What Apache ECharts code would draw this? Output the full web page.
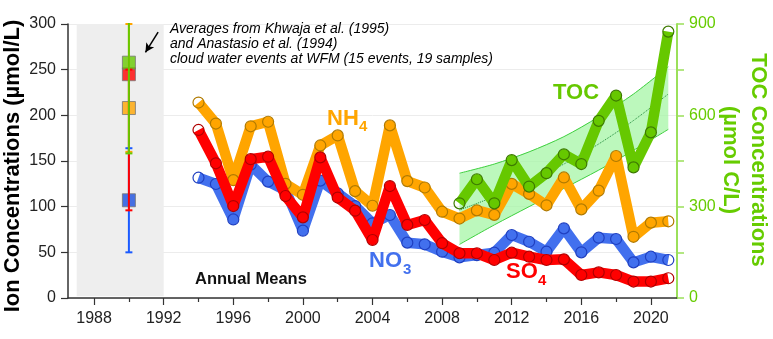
<!DOCTYPE html>
<html><head><meta charset="utf-8">
<script src="https://cdn.jsdelivr.net/npm/echarts@6/dist/echarts.min.js"></script>
<style>html,body{margin:0;padding:0;background:#fff}#c{width:773px;height:339px}</style>
</head><body><div id="c"></div>
<script>
// ---- data ----
const years = [1994,1995,1996,1997,1998,1999,2000,2001,2002,2003,2004,2005,2006,2007,2008,2009,2010,2011,2012,2013,2014,2015,2016,2017,2018,2019,2020,2021];
const nh4 = [214,191,129,188,193,125,113,167,178,117,101,189,128,121,94.5,87,96,91,125,114,101.5,132,97,117.5,155.5,67,82.5,84];
const so4 = [184,147.5,100.7,152,154.7,111.7,88.3,154,110,95.6,63.5,122.6,80,85.4,60,49,49,41.6,49.6,45.2,41.6,42.3,25.2,28.1,25.2,18,18,21.6];
const no3 = [131.7,124.8,86,146,127.4,118,73.7,128.5,114.6,100.7,81.8,90.9,60.6,58.8,50.7,44.5,47,49.6,69,61.6,50.7,76.3,50,66,64.6,39,45.2,41.6];
const tocYears = [2009,2010,2011,2012,2013,2014,2015,2016,2017,2018,2019,2020,2021];
const toc = [311,390,311,453,366,410,472,440,582,665,429,544,875];
const trendYears = [2009,2011,2013,2015,2017,2019,2021];
const trendMid = [289,333,383,440,506,583,670];
const trendUpper = [410,440,480,530,595,670,760];
const trendLower = [176,240,300,360,420,485,554];
// 1990 averages (Khwaja et al. 1995; Anastasio et al. 1994): [year, mean, low, high]
const histNO3 = [1990,107,50,164];
const histNH4 = [1990,208,160,300];
const histSO4 = [1990,245,96,250];
const histTOC = [1990,773,475,915];
const xLabelYears = [1988,1992,1996,2000,2004,2008,2012,2016,2020];
const xMinorYears = [1990,1994,1998,2002,2006,2010,2014,2018];

const C = {nh4:'#ffa500', so4:'#ff0000', no3:'#4270ee', toc:'#66c800'};
const FONT = 'Liberation Sans, Arial, sans-serif';

function pairs(xs, ys){ return xs.map((x,i)=>[x, ys[i]]); }

function mainLine(name, xs, ys, color, border, yAxisIndex, z){
  return {type:'line', name, data:pairs(xs,ys), yAxisIndex, z,
    symbol:'circle', symbolSize:11,
    lineStyle:{color, width:10.5, join:'round'},
    itemStyle:{color:'rgba(0,0,0,0)', borderColor:border, borderWidth:1.2},
    emphasis:{disabled:true}, animation:false};
}
function errBar(h, color, yAxisIndex, z){
  return {type:'custom', yAxisIndex, z, animation:false, silent:true,
    data:[[h[0], h[2], h[3]]],
    renderItem:function(params, api){
      const x = api.value(0), lo = api.value(1), hi = api.value(2);
      const a = api.coord([x, lo]), b = api.coord([x, hi]);
      const top = params.coordSys.y - 1;
      const clipped = b[1] < top;
      b[1] = Math.max(b[1], top);
      const st = {stroke:color, lineWidth:2};
      const cw = 3.5;
      const kids = [
        {type:'line', shape:{x1:a[0],y1:a[1],x2:b[0],y2:b[1]}, style:st},
        {type:'line', shape:{x1:a[0]-cw,y1:a[1],x2:a[0]+cw,y2:a[1]}, style:st}
      ];
      if (!clipped) kids.push({type:'line', shape:{x1:b[0]-cw,y1:b[1],x2:b[0]+cw,y2:b[1]}, style:st});
      return {type:'group', children:kids};
    }};
}
function histSquare(h, color, yAxisIndex, z){
  return {type:'scatter', yAxisIndex, z, data:[[h[0], h[1]]], symbol:'rect', symbolSize:13,
    itemStyle:{color, borderColor:'#777', borderWidth:1}, emphasis:{disabled:true}, animation:false, silent:true};
}

const bandData = trendYears.map((y,i)=>[y, trendLower[i], trendUpper[i]]);

const chart = echarts.init(document.getElementById('c'));
const option = {
  animation:false,
  grid:{left:68, right:96, top:24, bottom:41, containLabel:false},
  xAxis:[
    {type:'value', min:1986.5, max:2021.5, position:'bottom',
     axisLine:{lineStyle:{color:'#333', width:1.5}},
     splitLine:{show:false},
     axisTick:{customValues:xLabelYears, length:7, lineStyle:{color:'#333', width:1.2}},
     axisLabel:{customValues:xLabelYears, fontSize:16, color:'#222', fontFamily:FONT, margin:13, formatter:v=>String(v)}},
    {type:'value', min:1986.5, max:2021.5, position:'bottom',
     axisLine:{show:false}, splitLine:{show:false},
     axisTick:{customValues:xMinorYears, length:4, lineStyle:{color:'#333', width:1.2}},
     axisLabel:{show:false}}
  ],
  yAxis:[
    {type:'value', min:0, max:300, interval:50, position:'left',
     axisLine:{show:true, lineStyle:{color:'#333', width:1.5}},
     axisTick:{show:true, length:7, lineStyle:{color:'#333', width:1.2}},
     axisLabel:{fontSize:16, color:'#222', fontFamily:FONT, margin:12},
     splitLine:{show:true, lineStyle:{color:'#ececec', width:1}}},
    {type:'value', min:0, max:900, interval:150, position:'right',
     axisLine:{show:true, lineStyle:{color:'#9be05a', width:2}},
     axisTick:{show:true, length:7, lineStyle:{color:'#9be05a', width:1.5}},
     axisLabel:{fontSize:16, color:'#66cc00', fontFamily:FONT, margin:12, formatter:v=>(v%300===0?String(v):'')},
     splitLine:{show:false}}
  ],
  series:[
    // grey band for early study period + arrow
    {type:'line', data:[], yAxisIndex:0, z:0,
     markArea:{silent:true, itemStyle:{color:'#eeeeee'}, data:[[{coord:[1987,2]},{coord:[1992,300]}]]},
     markLine:{silent:true, symbol:['none','arrow'], symbolSize:[7,9], label:{show:false},
       lineStyle:{color:'#000', width:1.5, type:'solid'},
       data:[[{coord:[1991.68,291]},{coord:[1990.95,269]}]]}},
    // TOC trend band fill
    {type:'custom', yAxisIndex:1, z:1, silent:true, animation:false, data:bandData,
     renderItem:function(params, api){
       if (params.dataIndex !== 0) return;
       const up = [], lo = [];
       for (let i=0;i<bandData.length;i++){
         up.push(api.coord([bandData[i][0], bandData[i][2]]));
         lo.push(api.coord([bandData[i][0], bandData[i][1]]));
       }
       return {type:'polygon', shape:{points:up.concat(lo.reverse())},
         style:{fill:'rgba(165,245,165,0.75)', stroke:'none'}};
     }},
    {type:'line', data:pairs(trendYears, trendLower), yAxisIndex:1, z:1, smooth:0.3,
     symbol:'none', lineStyle:{color:'#3fcf3f', width:1}, emphasis:{disabled:true}, silent:true},
    {type:'line', data:pairs(trendYears, trendUpper), yAxisIndex:1, z:1, smooth:0.3,
     symbol:'none', lineStyle:{color:'#3fcf3f', width:1}, emphasis:{disabled:true}, silent:true},
    {type:'line', data:pairs(trendYears, trendMid), yAxisIndex:1, z:1, smooth:0.3,
     symbol:'none', lineStyle:{color:'#1f8a3a', width:1, type:'dotted'}, emphasis:{disabled:true}, silent:true},
    // annual means
    mainLine('NO3', years, no3, C.no3, '#1f3fc0', 0, 2),
    mainLine('NH4', years, nh4, C.nh4, '#b07a00', 0, 3),
    mainLine('SO4', years, so4, C.so4, '#b00000', 0, 4),
    mainLine('TOC', tocYears, toc, C.toc, '#3d7a00', 1, 5),
    // 1990 averages
    histSquare(histNO3, '#1a4fe0', 0, 6),
    histSquare(histNH4, '#ffa500', 0, 6),
    histSquare(histSO4, '#ff0000', 0, 6),
    histSquare(histTOC, '#66c800', 1, 6),
    errBar(histNO3, '#1a5aff', 0, 7),
    errBar(histSO4, '#ff0000', 0, 7),
    errBar(histTOC, '#66c800', 1, 7),
    errBar(histNH4, '#ffa500', 0, 6.5)
  ],
  graphic:[
    {type:'text', x:13, y:166, rotation:Math.PI/2, z:10,
     style:{text:'Ion Concentrations (µmol/L)', font:'bold 22px '+FONT, fill:'#000', align:'center', verticalAlign:'middle'}},
    {type:'text', x:744, y:160, rotation:-Math.PI/2, z:10,
     style:{text:'TOC Concentrations\n(µmol C/L)', font:'bold 22px '+FONT, fill:'#66cc00', align:'center', verticalAlign:'middle', lineHeight:28}},
    {type:'text', x:170, y:22, z:10,
     style:{text:'Averages from Khwaja et al. (1995)\nand Anastasio et al. (1994)\ncloud water events at WFM (15 events, 19 samples)',
       font:'italic 14px '+FONT, fill:'#000', lineHeight:15, align:'left', verticalAlign:'top'}},
    {type:'text', x:195, y:279, z:10,
     style:{text:'Annual Means', font:'bold 16.5px '+FONT, fill:'#111', align:'left', verticalAlign:'middle'}},
    {type:'text', x:327, y:119, z:10, style:{text:'NH', font:'bold 22px '+FONT, fill:C.nh4, verticalAlign:'middle'}},
    {type:'text', x:359, y:127, z:10, style:{text:'4', font:'bold 15px '+FONT, fill:C.nh4, verticalAlign:'middle'}},
    {type:'text', x:369, y:261, z:10, style:{text:'NO', font:'bold 22px '+FONT, fill:C.no3, verticalAlign:'middle'}},
    {type:'text', x:403, y:270, z:10, style:{text:'3', font:'bold 15px '+FONT, fill:C.no3, verticalAlign:'middle'}},
    {type:'text', x:506, y:272, z:10, style:{text:'SO', font:'bold 22px '+FONT, fill:C.so4, verticalAlign:'middle'}},
    {type:'text', x:538, y:281, z:10, style:{text:'4', font:'bold 15px '+FONT, fill:C.so4, verticalAlign:'middle'}},
    {type:'text', x:553, y:93, z:10, style:{text:'TOC', font:'bold 22px '+FONT, fill:C.toc, verticalAlign:'middle'}}
  ]
};
chart.setOption(option);
</script>
</body></html>
